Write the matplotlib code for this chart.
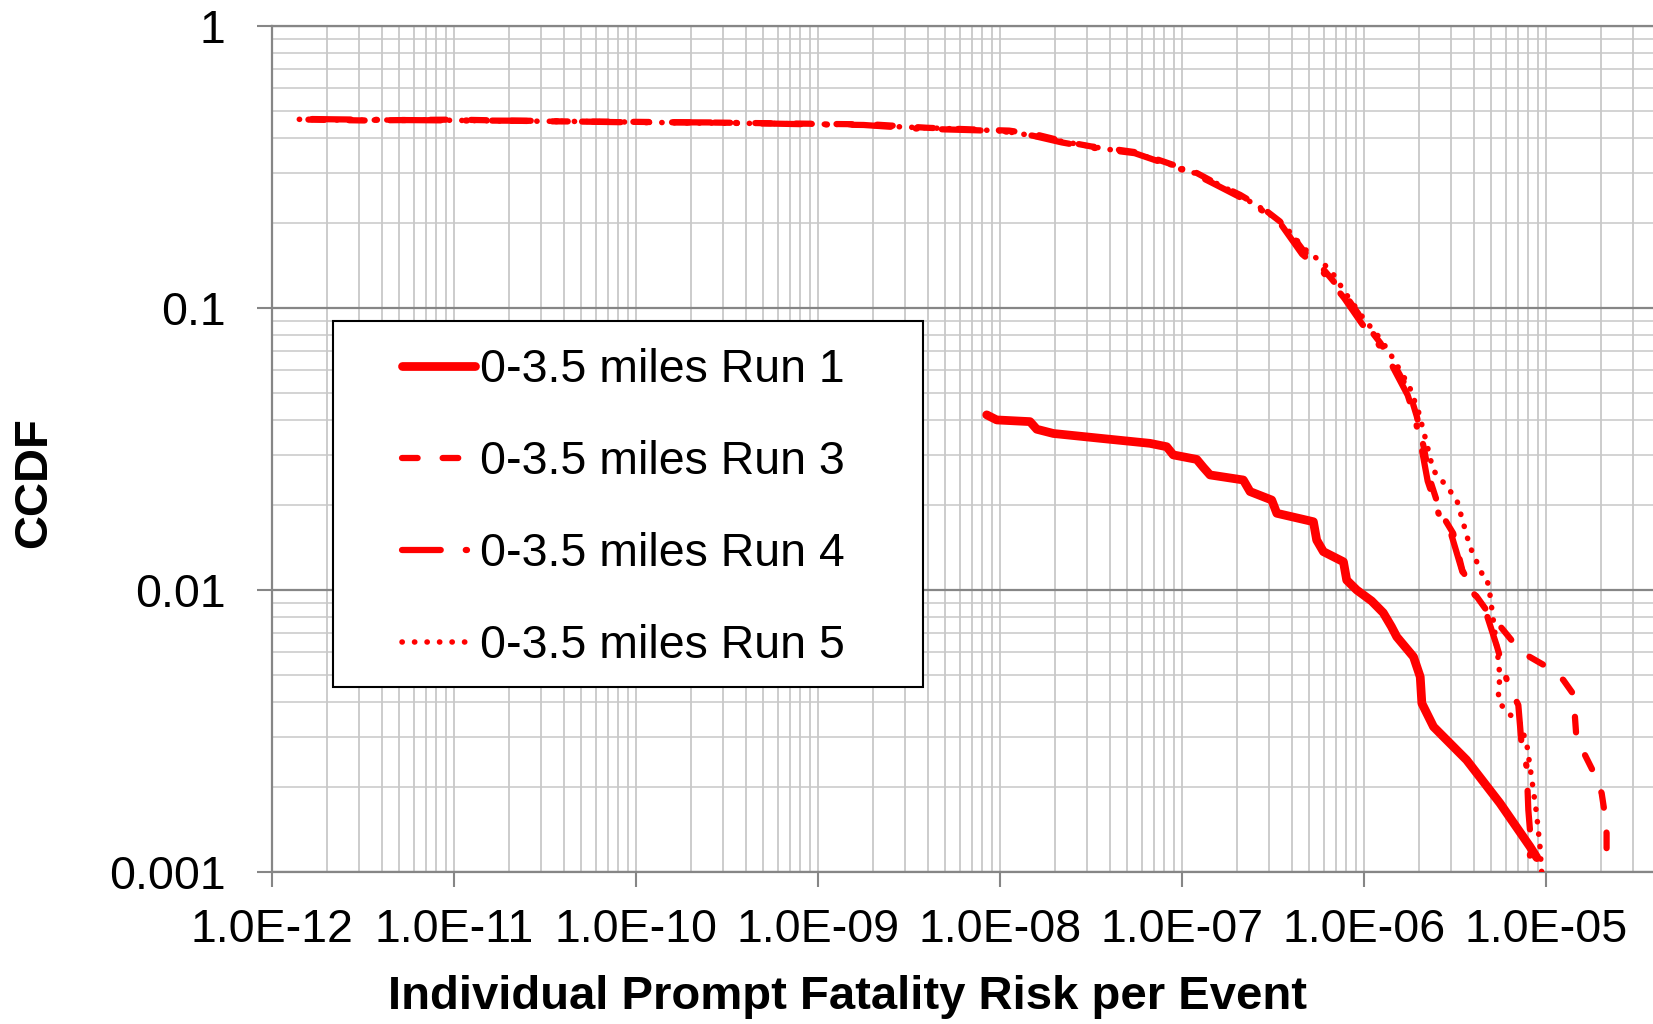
import numpy as np
import matplotlib
matplotlib.use("Agg")
import matplotlib.pyplot as plt
from matplotlib.ticker import LogLocator, NullFormatter
from matplotlib.patches import Rectangle

plt.rcParams["font.family"] = ["Liberation Sans", "DejaVu Sans"]

# CCDF curves, stored as log10(risk) and log10(CCDF)
run1_logx = [-8.073, -8.018, -7.835, -7.798, -7.707, -7.451, -7.176, -7.084, -7.048,
             -6.919, -6.883, -6.846, -6.663, -6.626, -6.507, -6.479, -6.278, -6.260,
             -6.223, -6.113, -6.095, -6.040, -5.958, -5.894, -5.850, -5.820, -5.728,
             -5.691, -5.682, -5.618, -5.436, -5.253, -5.088, -5.050]
run1_logy = [-1.380, -1.398, -1.404, -1.431, -1.446, -1.463, -1.481, -1.493, -1.522,
             -1.538, -1.566, -1.593, -1.611, -1.652, -1.682, -1.729, -1.759, -1.824,
             -1.865, -1.901, -1.966, -2.001, -2.040, -2.082, -2.130, -2.167, -2.238,
             -2.309, -2.403, -2.486, -2.604, -2.757, -2.911, -2.950]

run3_logx = [-11.80, -11.50, -11.00, -10.50, -10.00, -9.50, -9.00, -8.70, -8.40, -8.10,
             -7.95, -7.80, -7.65, -7.50, -7.35, -7.25, -7.10, -6.92, -6.81, -6.68,
             -6.55, -6.44, -6.33, -6.22, -6.10, -6.00, -5.91, -5.84, -5.75, -5.71,
             -5.67, -5.64, -5.58, -5.51, -5.46, -5.40, -5.33, -5.25, -5.16, -5.09,
             -4.98, -4.905, -4.85, -4.841, -4.832, -4.786, -4.731, -4.694, -4.676,
             -4.667, -4.667, -4.657]
run3_logy = [-0.333, -0.336, -0.333, -0.339, -0.341, -0.344, -0.348, -0.350, -0.362, -0.369,
             -0.372, -0.386, -0.410, -0.428, -0.440, -0.449, -0.482, -0.522, -0.560, -0.600,
             -0.650, -0.705, -0.800, -0.866, -0.958, -1.050, -1.125, -1.195, -1.300, -1.385,
             -1.500, -1.605, -1.725, -1.800, -1.930, -2.007, -2.070, -2.131, -2.202, -2.238,
             -2.279, -2.320, -2.370, -2.450, -2.533, -2.586, -2.657, -2.722, -2.799,
             -2.864, -2.935, -3.000]

run4_logx = [-11.78, -11.40, -11.00, -10.60, -10.10, -9.60, -9.10, -8.75, -8.45, -8.12,
             -7.97, -7.82, -7.66, -7.52, -7.36, -7.26, -7.11, -6.93, -6.82, -6.69,
             -6.56, -6.45, -6.34, -6.23, -6.11, -6.01, -5.92, -5.85, -5.76, -5.72,
             -5.68, -5.65, -5.59, -5.52, -5.46, -5.40, -5.33, -5.272, -5.207, -5.152,
             -5.133, -5.106, -5.097, -5.088, -5.088]
run4_logy = [-0.331, -0.334, -0.336, -0.337, -0.342, -0.343, -0.349, -0.352, -0.365, -0.371,
             -0.375, -0.390, -0.414, -0.430, -0.444, -0.452, -0.485, -0.526, -0.562, -0.605,
             -0.655, -0.710, -0.810, -0.870, -0.965, -1.058, -1.130, -1.200, -1.310, -1.390,
             -1.510, -1.615, -1.730, -1.805, -1.935, -2.010, -2.080, -2.196, -2.338, -2.409,
             -2.557, -2.628, -2.781, -2.852, -3.000]

run5_logx = [-11.85, -11.60, -11.20, -10.70, -10.20, -9.70, -9.20, -8.80, -8.50, -8.15,
             -7.98, -7.84, -7.68, -7.52, -7.37, -7.27, -7.12, -6.94, -6.82, -6.70,
             -6.57, -6.45, -6.33, -6.22, -6.17, -6.10, -6.00, -5.91, -5.84, -5.75,
             -5.70, -5.66, -5.62, -5.55, -5.49, -5.418, -5.344, -5.325, -5.31, -5.28,
             -5.262, -5.253, -5.262, -5.253, -5.207, -5.143, -5.106, -5.080, -5.052,
             -5.033, -5.024]
run5_logy = [-0.332, -0.335, -0.334, -0.338, -0.340, -0.345, -0.347, -0.351, -0.360, -0.368,
             -0.374, -0.388, -0.408, -0.426, -0.442, -0.450, -0.480, -0.520, -0.556, -0.596,
             -0.645, -0.700, -0.790, -0.845, -0.880, -0.950, -1.040, -1.110, -1.180, -1.280,
             -1.370, -1.470, -1.576, -1.630, -1.682, -1.847, -1.954, -1.960, -2.007, -2.155,
             -2.249, -2.309, -2.367, -2.403, -2.438, -2.474, -2.545, -2.663, -2.793,
             -2.911, -3.000]

series_labels = ["0-3.5 miles Run 1", "0-3.5 miles Run 3",
                 "0-3.5 miles Run 4", "0-3.5 miles Run 5"]

x_tick_exps = [-12, -11, -10, -9, -8, -7, -6, -5]
x_tick_labels = ["1.0E-12", "1.0E-11", "1.0E-10", "1.0E-09",
                 "1.0E-08", "1.0E-07", "1.0E-06", "1.0E-05"]
y_ticks = [0.001, 0.01, 0.1, 1]
y_tick_labels = ["0.001", "0.01", "0.1", "1"]

red = "#FF0000"
fs = 33.5

fig = plt.figure(figsize=(16.53, 10.24), dpi=100)
ax = fig.add_axes([0.16455, 0.14873, 0.83545, 0.82617])

ax.plot(10 ** np.array(run1_logx), 10 ** np.array(run1_logy), color=red, lw=6.3,
        solid_capstyle="round", solid_joinstyle="round", label=series_labels[0], zorder=4)
ax.plot(10 ** np.array(run3_logx), 10 ** np.array(run3_logy), color=red, lw=4.5,
        dashes=(2.5, 4), dash_capstyle="round", label=series_labels[1], zorder=4)
ax.plot(10 ** np.array(run4_logx), 10 ** np.array(run4_logy), color=red, lw=4.5,
        dashes=(6.2, 4, 0.2, 4), dash_capstyle="round", label=series_labels[2], zorder=4)
ax.plot(10 ** np.array(run5_logx), 10 ** np.array(run5_logy), color=red, lw=4.0,
        dashes=(0.05, 2.2), dash_capstyle="round", label=series_labels[3], zorder=4)

ax.set_xscale("log")
ax.set_yscale("log")
ax.set_xlim(1e-12, 10 ** -4.412)
ax.set_ylim(0.001, 1)

ax.set_xticks([10.0 ** e for e in x_tick_exps], labels=x_tick_labels)
ax.set_yticks(y_ticks, labels=y_tick_labels)
ax.xaxis.set_minor_locator(LogLocator(base=10, subs=np.arange(2, 10), numticks=100))
ax.yaxis.set_minor_locator(LogLocator(base=10, subs=np.arange(2, 10), numticks=100))
ax.xaxis.set_minor_formatter(NullFormatter())
ax.yaxis.set_minor_formatter(NullFormatter())

ax.tick_params(which="major", direction="out", length=10.5, width=1.5,
               color="#868686", labelsize=fs)
ax.tick_params(axis="x", which="major", pad=15.5)
ax.tick_params(axis="y", which="major", pad=23)
ax.tick_params(which="minor", length=0)

# gridlines: all verticals light, horizontal decades darker
ax.grid(True, axis="x", which="both", color="#BEBEBE", lw=1.1, zorder=0)
ax.grid(True, axis="y", which="minor", color="#C8C8C8", lw=1.1, zorder=0)
ax.grid(True, axis="y", which="major", color="#868686", lw=1.6, zorder=1)
ax.set_axisbelow(True)

for side in ["left", "bottom", "top"]:
    ax.spines[side].set_color("#868686")
    ax.spines[side].set_linewidth(1.6)
ax.spines["right"].set_visible(False)

ax.set_xlabel("Individual Prompt Fatality Risk per Event", fontsize=34,
              fontweight="bold", va="center", ha="center")
ax.xaxis.set_label_coords(0.417, -0.148)
ax.set_ylabel("CCDF", fontsize=34, fontweight="bold", va="center", ha="center")
ax.yaxis.set_label_coords(-0.1723, 0.46)

# boxed legend
ax.add_patch(Rectangle((0.0442, 0.2187), 0.4272, 0.4323, transform=ax.transAxes,
                       facecolor="white", edgecolor="black", lw=1.5, zorder=5))
leg = ax.legend(loc="upper left", bbox_to_anchor=(0.0941, 0.619), frameon=False,
                fontsize=fs, handlelength=1.57, handletextpad=0.1, labelspacing=1.03,
                borderpad=0, borderaxespad=0)
leg.set_zorder(6)

fig.savefig("out.png", dpi=100)
